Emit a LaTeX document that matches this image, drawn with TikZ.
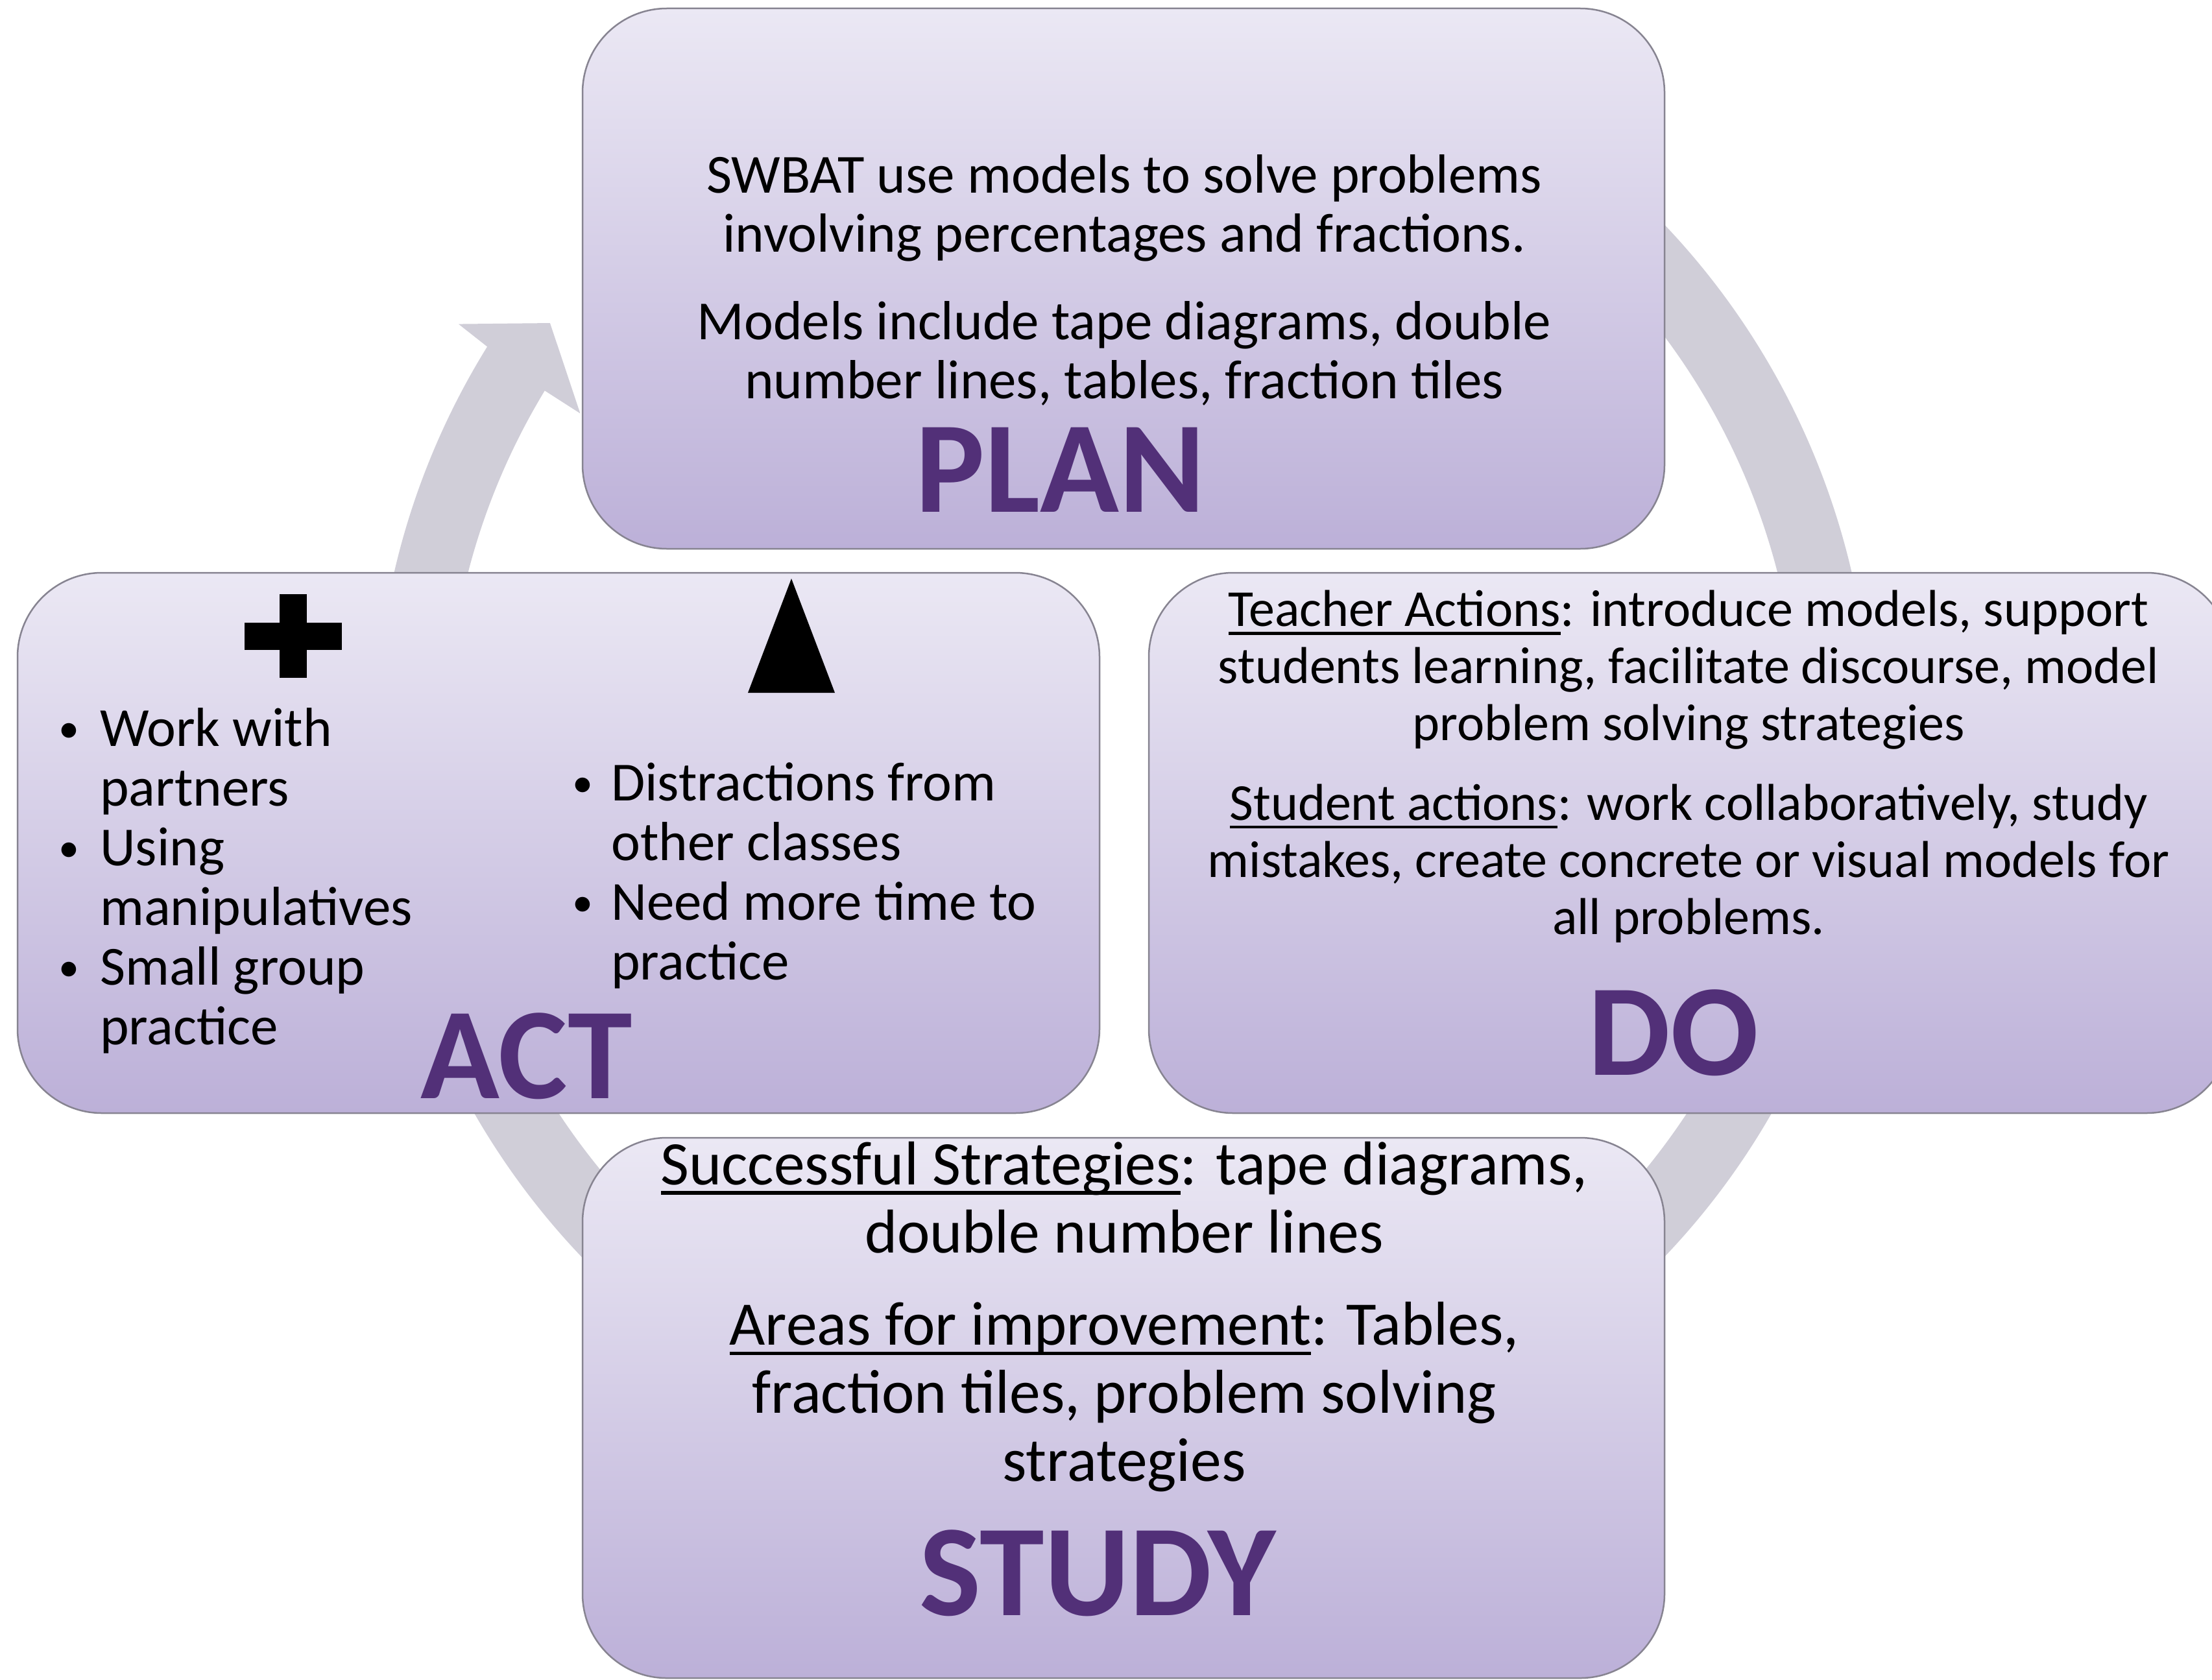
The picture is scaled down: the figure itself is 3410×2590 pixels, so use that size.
\documentclass[tikz,border=0pt]{standalone}
\usepackage{fontspec}
\setmainfont{Carlito}
\definecolor{ringc}{RGB}{208,206,216}
\definecolor{boxtop}{RGB}{235,232,244}
\definecolor{boxbot}{RGB}{188,176,216}
\definecolor{boxline}{RGB}{135,132,145}
\definecolor{labc}{RGB}{82,48,120}
\newcommand{\myul}[1]{\setbox0\hbox{#1}\rlap{\rule[-0.16em]{\wd0}{0.055em}}\box0}
\newcommand{\smbul}{\raisebox{6pt}{\fontsize{64}{64}\selectfont •}}
\newcommand{\bul}{\makebox[64pt][l]{\smbul}}
\newcommand{\ind}{\hspace*{64pt}}
\newcommand{\bulr}{\makebox[60pt][l]{\smbul}}
\newcommand{\indr}{\hspace*{60pt}}
\tikzset{
  card/.style={rounded corners=130pt, top color=boxtop, bottom color=boxbot,
    draw=boxline, line width=2.5pt, minimum width=1668pt, minimum height=833pt,
    inner sep=0pt},
  txt/.style={align=center, inner sep=0pt, font=\fontsize{85}{91}\selectfont},
  dotxt/.style={align=center, inner sep=0pt, font=\fontsize{80}{88}\selectfont},
  sttxt/.style={align=center, inner sep=0pt, font=\fontsize{95.5}{105}\selectfont},
  acttxt/.style={align=left, inner sep=0pt, anchor=west, font=\fontsize{85}{92}\selectfont},
  biglab/.style={inner sep=0pt, text=labc, font=\fontsize{201}{201}\selectfont\bfseries},
}
\begin{document}
\begin{tikzpicture}[x=1pt,y=-1pt]
\useasboundingbox (0,0) rectangle (3410,2590);
\clip (0,0) rectangle (3410,2590);
\fill[white] (0,0) rectangle (3410,2590);
% cycle arrow
\begin{scope}[shift={(1731,1142)}]
\fill[ringc] (-70:1153) arc[start angle=-70,end angle=211.8,radius=1153]
  -- (212.1:1209) -- (216.1:1093) -- (211.1:977) -- (211.2:1042)
  arc[start angle=211.2,end angle=-70,radius=1042] -- cycle;
\end{scope}
% boxes
\node[card] (plan) at (1732,429.5) {};
\node[card] (act) at (861,1299.5) {};
\node[card] (do) at (2605,1299.5) {};
\node[card] (study) at (1732,2170.5) {};
% PLAN texts
\node[txt] (plan1) at (1733,321) {SWBAT use models to solve problems\\involving percentages and fractions.};
\node[txt] (plan2) at (1733,545) {Models include tape diagrams, double\\number lines, tables, fraction tiles};
\node[biglab] (planlab) at (1635,724) {PLAN};
% DO texts
\node[dotxt] (do1) at (2603,1033) {\myul{Teacher Actions}: introduce models, support\\students learning, facilitate discourse, model\\problem solving strategies};
\node[dotxt] (do2) at (2603,1331) {\myul{Student actions}: work collaboratively, study\\mistakes, create concrete or visual models for\\all problems.};
\node[biglab] (dolab) at (2580,1592) {DO};
% STUDY texts
\node[sttxt] (st1) at (1733,1846) {\myul{Successful Strategies}: tape diagrams,\\double number lines};
\node[sttxt] (st2) at (1733,2154) {\myul{Areas for improvement}: Tables,\\fraction tiles, problem solving\\strategies};
\node[biglab] (stlab) at (1692,2425) {STUDY};
% ACT contents
\fill (377,960) rectangle (527,1002);
\fill (431,916) rectangle (473,1045);
\fill (1220,892) -- (1287,1068) -- (1153,1068) -- cycle;
\node[acttxt] (act1) at (90,1358) {\bul Work with\\\ind partners\\\bul Using\\\ind manipulatives\\\bul Small group\\\ind practice};
\node[acttxt] (act2) at (882,1350) {\bulr Distractions from\\\indr other classes\\\bulr Need more time to\\\indr practice};
\node[biglab] (actlab) at (812,1628) {ACT};
\end{tikzpicture}
\end{document}
